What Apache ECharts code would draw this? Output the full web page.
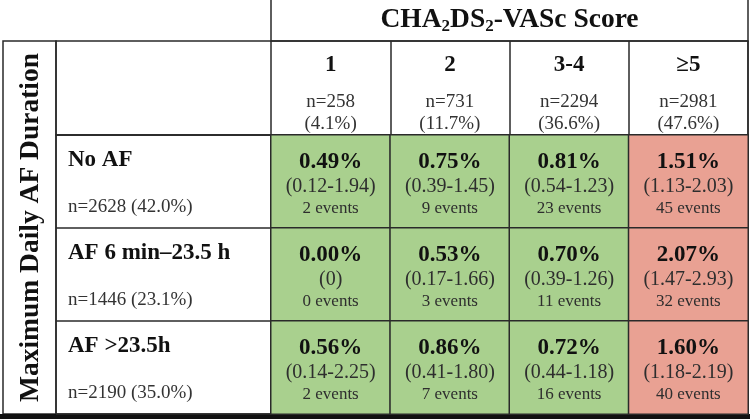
<!DOCTYPE html>
<html lang="en">
<head>
<meta charset="UTF-8">
<title>AF duration by CHA2DS2-VASc score</title>
<script src="https://cdn.jsdelivr.net/npm/echarts@6/dist/echarts.min.js"></script>
<style>html, body { margin: 0; padding: 0; background: #fff; }</style>
</head>
<body>
<div id="main" style="width: 750px;height: 419px"></div>
<script type="text/javascript">
  // column headers (CHA2DS2-VASc score groups)
  var scoreCols = ['1', '2', '3-4', '≥5'];
  var colN = [258, 731, 2294, 2981];
  var colPct = ['4.1%', '11.7%', '36.6%', '47.6%'];

  // row headers (maximum daily AF duration)
  var durationRows = ['No AF', 'AF 6 min–23.5 h', 'AF >23.5h'];
  var rowN = [2628, 1446, 2190];
  var rowPct = ['42.0%', '23.1%', '35.0%'];

  // event rate (%), 95% CI and event counts per row
  var ratesNoAF = [0.49, 0.75, 0.81, 1.51];
  var ratesShort = [0.00, 0.53, 0.70, 2.07];
  var ratesLong = [0.56, 0.86, 0.72, 1.60];
  var ciNoAF = ['0.12-1.94', '0.39-1.45', '0.54-1.23', '1.13-2.03'];
  var ciShort = ['0', '0.17-1.66', '0.39-1.26', '1.47-2.93'];
  var ciLong = ['0.14-2.25', '0.41-1.80', '0.44-1.18', '1.18-2.19'];
  var eventsNoAF = [2, 9, 23, 45];
  var eventsShort = [0, 3, 11, 32];
  var eventsLong = [2, 7, 16, 40];

  var rates = [ratesNoAF, ratesShort, ratesLong];
  var cis = [ciNoAF, ciShort, ciLong];
  var events = [eventsNoAF, eventsShort, eventsLong];

  var cells = [];
  for (var r = 0; r < durationRows.length; r++) {
    for (var c = 0; c < scoreCols.length; c++) {
      cells.push([c, r, rates[r][c]]);
    }
  }

  var serif = 'Liberation Serif';
  var lineCol = '#2a2a2a';
  var lineW = 1.5;

  var myChart = echarts.init(document.getElementById('main'));
  var option = {
    backgroundColor: '#fff',
    animation: false,
    textStyle: { fontFamily: serif },
    grid: [
      { left: 271, right: 2, top: 135, bottom: 5, outerBoundsMode: 'none' },
      { left: 56, right: 2, top: 41, height: 94, show: true, borderColor: lineCol, borderWidth: lineW, outerBoundsMode: 'none' },
      { left: 56, width: 215, top: 135, bottom: 5, show: true, borderColor: lineCol, borderWidth: lineW, outerBoundsMode: 'none' },
      { left: 3, width: 53, top: 41, bottom: 5, show: true, borderColor: lineCol, borderWidth: lineW, outerBoundsMode: 'none' },
      { left: 271, right: 2, top: -2, height: 43, show: true, borderColor: lineCol, borderWidth: lineW, outerBoundsMode: 'none' }
    ],
    xAxis: [{
      gridIndex: 0,
      type: 'category',
      data: scoreCols,
      position: 'top',
      axisLine: { show: false },
      axisTick: { show: true, length: 94, interval: 0, lineStyle: { color: lineCol, width: lineW } },
      splitLine: { show: false },
      axisLabel: {
        interval: 0,
        margin: 0,
        fontFamily: serif,
        formatter: function(v, i) {
          return '{h|' + v + '}\n{n|n=' + colN[i] + '}\n{p|(' + colPct[i] + ')}';
        },
        rich: {
          h: { fontFamily: serif, fontSize: 23, fontWeight: 'bold', color: '#111', lineHeight: 54 },
          n: { fontFamily: serif, fontSize: 19, color: '#333', lineHeight: 21 },
          p: { fontFamily: serif, fontSize: 19, color: '#333', lineHeight: 22 }
        }
      },
      name: '{t|CHA}{s|2}{t|DS}{s|2}{t|-VASc Score}',
      nameLocation: 'middle',
      nameGap: 100,
      nameMoveOverlap: false,
      nameTextStyle: {
        rich: {
          t: { fontFamily: serif, fontSize: 27.5, fontWeight: 'bold', color: '#111', lineHeight: 30 },
          s: { fontFamily: serif, fontSize: 17, fontWeight: 'bold', color: '#111', lineHeight: 17, verticalAlign: 'bottom' }
        }
      }
    },
    { gridIndex: 1, type: 'value', show: false },
    { gridIndex: 2, type: 'value', show: false },
    { gridIndex: 3, type: 'value', show: false },
    { gridIndex: 4, type: 'value', show: false }],
    yAxis: [{
      gridIndex: 0,
      type: 'category',
      data: durationRows,
      inverse: true,
      axisLine: { show: false },
      axisTick: { show: false },
      axisLabel: { show: false }
    },
    { gridIndex: 1, type: 'value', show: false },
    {
      gridIndex: 2,
      type: 'category',
      data: durationRows,
      inverse: true,
      axisLine: { show: false },
      axisTick: { show: false },
      splitLine: { show: true, interval: 0, lineStyle: { color: lineCol, width: lineW } },
      axisLabel: {
        inside: true,
        interval: 0,
        margin: 12,
        align: 'left',
        formatter: function(v, i) {
          return '{b|' + v + '}\n{n|n=' + rowN[i] + ' (' + rowPct[i] + ')}';
        },
        rich: {
          b: { fontFamily: serif, fontSize: 23, fontWeight: 'bold', color: '#111', lineHeight: 52 },
          n: { fontFamily: serif, fontSize: 19, color: '#333', lineHeight: 42 }
        }
      }
    },
    {
      gridIndex: 3,
      type: 'value',
      axisLine: { show: false },
      axisTick: { show: false },
      axisLabel: { show: false },
      splitLine: { show: false },
      name: 'Maximum Daily AF Duration',
      nameLocation: 'middle',
      nameRotate: 90,
      nameGap: -42,
      nameMoveOverlap: false,
      nameTextStyle: { fontFamily: serif, fontSize: 27.5, fontWeight: 'bold', color: '#111' }
    },
    { gridIndex: 4, type: 'value', show: false }],
    visualMap: {
      type: 'piecewise',
      show: false,
      seriesIndex: 0,
      dimension: 2,
      pieces: [
        { lt: 1, color: '#a9d08e' },
        { gte: 1, color: '#e9a193' }
      ]
    },
    series: [{
      type: 'heatmap',
      xAxisIndex: 0,
      yAxisIndex: 0,
      data: cells,
      itemStyle: { borderColor: lineCol, borderWidth: lineW },
      emphasis: { disabled: true },
      label: {
        show: true,
        offset: [0, 2],
        formatter: function(p) {
          var c = p.value[0], r = p.value[1];
          return '{r|' + rates[r][c].toFixed(2) + '%}\n{ci|(' + cis[r][c] + ')}\n{ev|' + events[r][c] + ' events}';
        },
        rich: {
          r: { fontFamily: serif, fontSize: 23, fontWeight: 'bold', color: '#111', lineHeight: 27.5 },
          ci: { fontFamily: serif, fontSize: 20, color: '#2e2e2e', lineHeight: 22 },
          ev: { fontFamily: serif, fontSize: 17, color: '#2e2e2e', lineHeight: 20.5 }
        }
      }
    }],
    graphic: [{
      type: 'rect',
      left: 0,
      bottom: 0,
      shape: { width: 750, height: 5 },
      style: { fill: '#111' }
    }]
  };
  myChart.setOption(option);
</script>
</body>
</html>
